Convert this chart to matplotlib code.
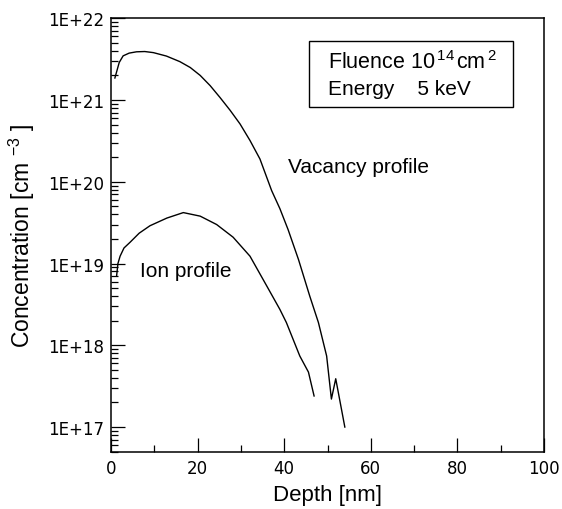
import numpy as np
import matplotlib
matplotlib.use('Agg')
import matplotlib.pyplot as plt
from matplotlib.ticker import MultipleLocator, LogLocator, FuncFormatter, NullFormatter

plt.rcParams['font.family'] = 'Liberation Sans'
plt.rcParams['mathtext.fontset'] = 'custom'
plt.rcParams['mathtext.rm'] = 'Liberation Sans'
plt.rcParams['mathtext.it'] = 'Liberation Sans:italic'

# vacancy profile (depth in nm, concentration in cm^-3)
vac_depth = [0.9, 1.9, 2.8, 4.2, 5.9, 7.8, 9.8, 12.8, 15.9, 18.3, 20.6, 22.9, 25.2,
             27.5, 29.8, 32.1, 34.4, 37.1, 39.0, 40.9, 43.3, 45.9, 47.9, 49.8,
             50.9, 51.9, 54.0]
vac_conc = [1.86e21, 2.88e21, 3.47e21, 3.75e21, 3.89e21, 3.92e21, 3.80e21, 3.45e21,
            2.95e21, 2.50e21, 2.00e21, 1.50e21, 1.07e21, 7.5e20, 5.1e20, 3.2e20,
            1.9e20, 7.8e19, 4.7e19, 2.6e19, 1.12e19, 4.0e18, 1.9e18, 7.4e17,
            2.2e17, 3.9e17, 1.0e17]

# ion profile
ion_depth = [1.3, 1.6, 2.1, 3.0, 4.4, 6.5, 9.0, 12.9, 16.7, 20.6, 24.4, 28.2, 32.1,
             35.9, 39.0, 40.5, 43.6, 45.6, 46.9]
ion_conc = [7.1e18, 1.0e19, 1.23e19, 1.55e19, 1.82e19, 2.35e19, 2.9e19, 3.6e19,
            4.2e19, 3.8e19, 3.0e19, 2.1e19, 1.23e19, 5.4e18, 2.75e18, 1.9e18,
            7.4e17, 4.7e17, 2.4e17]

fig = plt.figure(figsize=(5.62, 5.10), dpi=100)
ax = fig.add_axes([0.1975, 0.1124, 0.7705, 0.8498])

ax.plot(vac_depth, vac_conc, color='black', lw=1.0)
ax.plot(ion_depth, ion_conc, color='black', lw=1.0)

ax.set_yscale('log')
ax.set_xlim(0, 100)
ax.set_ylim(5e16, 1e22)

ax.xaxis.set_major_locator(MultipleLocator(20))
ax.xaxis.set_minor_locator(MultipleLocator(10))
ax.yaxis.set_major_locator(LogLocator(base=10, numticks=20))
ax.yaxis.set_minor_locator(LogLocator(base=10, subs=np.arange(2, 10), numticks=20))
ax.yaxis.set_major_formatter(FuncFormatter(lambda v, p: '1E+%d' % round(np.log10(v))))
ax.yaxis.set_minor_formatter(NullFormatter())

ax.tick_params(which='both', direction='in', top=False, right=False, width=0.9)
ax.tick_params(which='major', length=10, labelsize=12, pad=5)
ax.tick_params(which='minor', length=5)
for lab in ax.get_xticklabels() + ax.get_yticklabels():
    lab.set_family('DejaVu Sans')
for s in ax.spines.values():
    s.set_linewidth(1.1)

ax.set_xlabel('Depth [nm]', fontsize=16, va='center')
ax.xaxis.set_label_coords(0.501, -0.098)
ax.set_ylabel('Concentration [cm $^{-3}$ ]', fontsize=16.5, va='center')
ax.yaxis.set_label_coords(-0.206, 0.5)

ax.text(0.409, 0.659, 'Vacancy profile', transform=ax.transAxes, fontsize=15, va='center')
ax.text(0.067, 0.417, 'Ion profile', transform=ax.transAxes, fontsize=15, va='center')

box = plt.Rectangle((0.457, 0.795), 0.471, 0.152, transform=ax.transAxes,
                    fill=False, ec='black', lw=1.0)
ax.add_patch(box)
ax.text(0.501, 0.901, 'Fluence 10$^{\\,14\\,}$cm$^{\\,2}$', transform=ax.transAxes,
        fontsize=15.5, va='center')
ax.text(0.501, 0.839, 'Energy    5 keV', transform=ax.transAxes, fontsize=15, va='center')

fig.savefig('out.png', dpi=100)
